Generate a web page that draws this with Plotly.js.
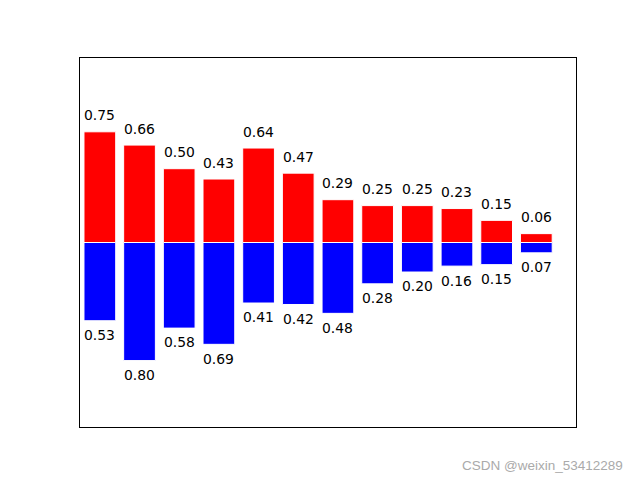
<!DOCTYPE html>
<html>
<head>
<meta charset="utf-8">
<script src="https://cdn.plot.ly/plotly-3.0.1.min.js"></script>
<style>html,body{margin:0;padding:0;background:#fff;}#chart{width:640px;height:480px;}</style>
</head>
<body>
<div id="chart"></div>
<script>
var positions = [0,1,2,3,4,5,6,7,8,9,10,11];
var upValues = [0.75,0.66,0.50,0.43,0.64,0.47,0.29,0.25,0.25,0.23,0.15,0.06];
var downValues = [0.53,0.80,0.58,0.69,0.41,0.42,0.48,0.28,0.20,0.16,0.15,0.07];
var watermarkText = "CSDN @weixin_53412289";

var traces = [
  {type:'bar', x:positions, y:upValues, width:0.8,
   marker:{color:'#ff0000', line:{color:'#ffffff', width:1}}, hoverinfo:'none'},
  {type:'bar', x:positions, y:downValues.map(function(v){return -v;}), width:0.8,
   marker:{color:'#0000ff', line:{color:'#ffffff', width:1}}, hoverinfo:'none'}
];

var annotations = [];
positions.forEach(function(p,i){
  annotations.push({x:p, y:upValues[i]+0.05, xref:'x', yref:'y', text:upValues[i].toFixed(2),
    showarrow:false, xanchor:'center', yanchor:'bottom', borderpad:0,
    font:{family:'DejaVu Sans', size:13.9, color:'#000'}});
  annotations.push({x:p, y:-downValues[i]-0.05, xref:'x', yref:'y', text:downValues[i].toFixed(2),
    showarrow:false, xanchor:'center', yanchor:'top', borderpad:0, yshift:2,
    font:{family:'DejaVu Sans', size:13.9, color:'#000'}});
});
annotations.push({xref:'paper', yref:'paper', x:1.099, y:-0.078, xanchor:'right', yanchor:'top',
  text:watermarkText, showarrow:false, font:{family:'Liberation Sans, Arial', size:13.5, color:'#aaaaaa'}});

var layout = {
  width:640, height:480,
  margin:{l:80, r:64, t:58, b:53},
  paper_bgcolor:'#fff', plot_bgcolor:'#fff',
  showlegend:false, barmode:'overlay',
  xaxis:{range:[-0.5,12], showticklabels:false, ticks:'', showgrid:false, zeroline:false,
    showline:true, mirror:true, linecolor:'#000', linewidth:1},
  yaxis:{range:[-1.25,1.25], showticklabels:false, ticks:'', showgrid:false, zeroline:false,
    showline:true, mirror:true, linecolor:'#000', linewidth:1},
  annotations:annotations
};
Plotly.newPlot('chart', traces, layout, {staticPlot:true, displayModeBar:false});
</script>
</body>
</html>
